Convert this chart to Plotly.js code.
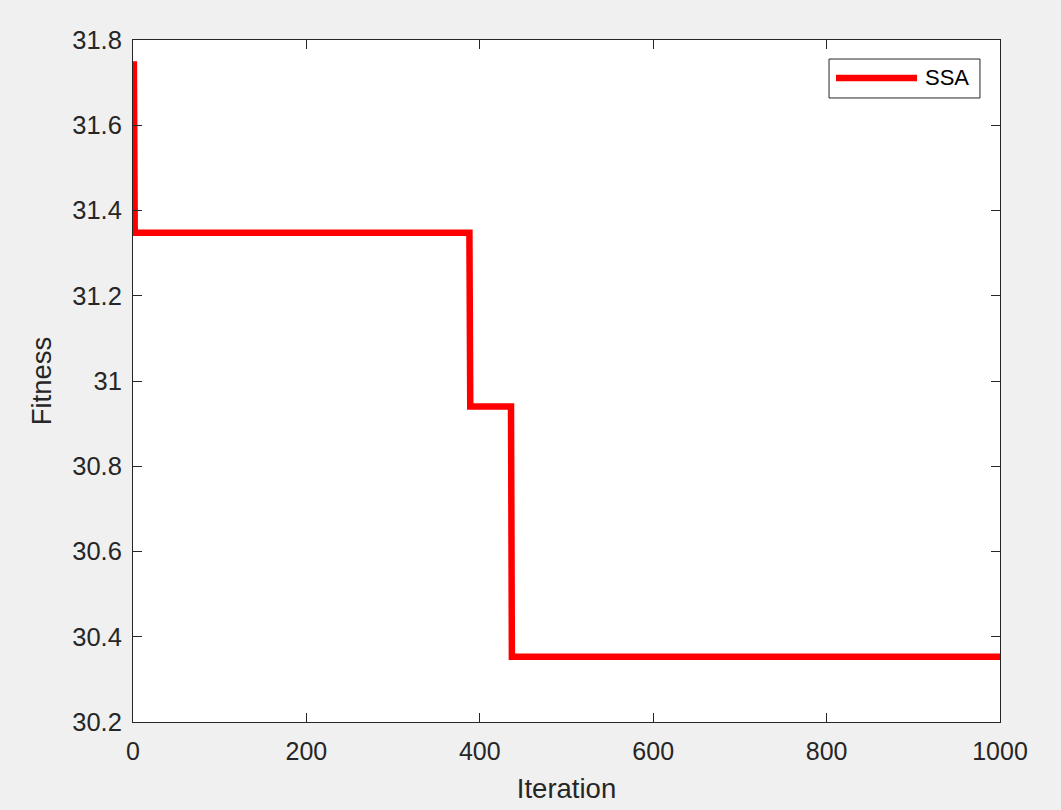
<!DOCTYPE html>
<html>
<head>
<meta charset="utf-8">
<script src="https://cdn.plot.ly/plotly-3.0.1.min.js"></script>
<style>
html, body { margin: 0; padding: 0; background: #f0f0f0; }
#chart { width: 1061px; height: 810px; }
</style>
</head>
<body>
<div id="chart"></div>
<script>
// Convergence curve breakpoints (iteration, best fitness)
const seriesName = "SSA";
const iterations = [1, 2, 388, 389, 436, 437, 1000];
const fitness = [31.75, 31.348, 31.348, 30.94, 30.94, 30.353, 30.353];
const yTickVals = [30.2, 30.4, 30.6, 30.8, 31, 31.2, 31.4, 31.6, 31.8];
const yTickText = ["30.2", "30.4", "30.6", "30.8", "31", "31.2", "31.4", "31.6", "31.8"];
const xTickVals = [0, 200, 400, 600, 800, 1000];
const xTickText = ["0", "200", "400", "600", "800", "1000"];

const axisColor = "#262626";
const lineColor = "#ff0000";
const fontFamily = "Liberation Sans, Arial, Helvetica, sans-serif";

const trace = {
  x: iterations,
  y: fitness,
  type: "scatter",
  mode: "lines",
  name: seriesName,
  showlegend: false,
  line: { color: lineColor, width: 6.5, shape: "linear" }
};

const layout = {
  width: 1061,
  height: 810,
  paper_bgcolor: "#f0f0f0",
  plot_bgcolor: "#ffffff",
  margin: { l: 133, r: 61, t: 40, b: 88, pad: 0 },
  font: { family: fontFamily, color: axisColor, size: 25 },
  showlegend: false,
  // MATLAB-style legend box drawn as decoration
  shapes: [
    { type: "rect", xref: "paper", yref: "paper", x0: 0.8028, x1: 0.9769, y0: 0.915, y1: 0.9721,
      fillcolor: "#ffffff", line: { color: axisColor, width: 1 }, layer: "above" },
    { type: "line", xref: "paper", yref: "paper", x0: 0.8108, x1: 0.9043, y0: 0.9443, y1: 0.9443,
      line: { color: lineColor, width: 6.5 }, layer: "above" }
  ],
  annotations: [
    { xref: "paper", yref: "paper", x: 0.9112, y: 0.9443, xanchor: "left", yanchor: "middle",
      text: seriesName, showarrow: false, font: { family: fontFamily, size: 22, color: "#000000" } }
  ],
  xaxis: {
    range: [0, 1000],
    tickvals: xTickVals,
    ticktext: xTickText,
    ticks: "inside",
    ticklen: 9,
    tickcolor: axisColor,
    tickwidth: 1,
    ticklabelstandoff: 7,
    showline: true,
    linecolor: axisColor,
    linewidth: 1,
    mirror: "ticks",
    showgrid: false,
    zeroline: false,
    tickfont: { size: 25, color: axisColor, family: fontFamily },
    title: { text: "Iteration", font: { size: 27.5, color: axisColor, family: fontFamily }, standoff: 14 }
  },
  yaxis: {
    range: [30.2, 31.8],
    tickvals: yTickVals,
    ticktext: yTickText,
    ticks: "inside",
    ticklen: 9,
    tickcolor: axisColor,
    tickwidth: 1,
    ticklabelstandoff: 5,
    showline: true,
    linecolor: axisColor,
    linewidth: 1,
    mirror: "ticks",
    showgrid: false,
    zeroline: false,
    tickfont: { size: 25.5, color: axisColor, family: fontFamily },
    title: { text: "Fitness", font: { size: 27.5, color: axisColor, family: fontFamily }, standoff: 12 }
  }
};

Plotly.newPlot("chart", [trace], layout, { displayModeBar: false, staticPlot: true });
</script>
</body>
</html>
